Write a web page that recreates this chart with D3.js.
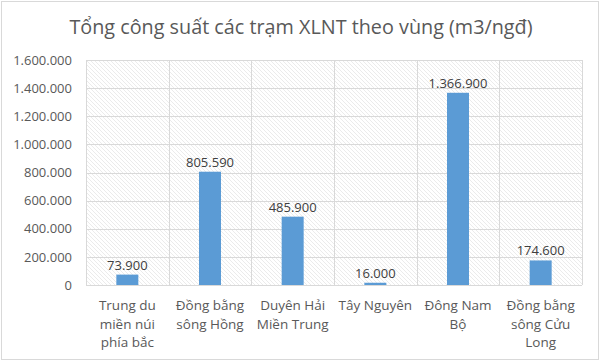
<!DOCTYPE html>
<html>
<head>
<meta charset="utf-8">
<script src="https://cdn.jsdelivr.net/npm/d3@7"></script>
<style>
  body { margin: 0; background: #fff; }
  text { font-family: "Open Sans", "Noto Sans", sans-serif; fill: #595959; }
</style>
</head>
<body>
<div id="chart"></div>
<script>
// data
const regions = [
  ['Trung du', 'miền núi', 'phía bắc'],
  ['Đồng bằng', 'sông Hồng'],
  ['Duyên Hải', 'Miền Trung'],
  ['Tây Nguyên'],
  ['Đông Nam', 'Bộ'],
  ['Đồng bằng', 'sông Cửu', 'Long']
];
const capacity = [73900, 805590, 485900, 16000, 1366900, 174600];
const yTicks = [0, 200000, 400000, 600000, 800000, 1000000, 1200000, 1400000, 1600000];
const title = 'Tổng công suất các trạm XLNT theo vùng (m3/ngđ)';

const W = 600, H = 361;
const margin = { top: 60, right: 18, bottom: 76, left: 86 };
const width = W - margin.left - margin.right;
const height = H - margin.top - margin.bottom;

// vi-VN style thousands separator
const fmt = d => d3.format(',')(d).replace(/,/g, '.');

const svg = d3.select('#chart').append('svg')
  .attr('width', W).attr('height', H);

// hatch pattern for plot area
const defs = svg.append('defs');
const pat = defs.append('pattern')
  .attr('id', 'hatch')
  .attr('patternUnits', 'userSpaceOnUse')
  .attr('width', 4).attr('height', 4);
pat.append('path')
  .attr('d', 'M-1,-1 L5,5 M-1,3 L1,5 M3,-1 L5,1')
  .attr('stroke', '#e2e2e2')
  .attr('stroke-width', 0.7);

// outer chart border
svg.append('rect')
  .attr('x', 1.5).attr('y', 1.5)
  .attr('width', W - 3).attr('height', H - 3)
  .attr('fill', 'none').attr('stroke', '#d9d9d9');

// title
svg.append('text')
  .attr('x', W / 2 + 1).attr('y', 34)
  .attr('text-anchor', 'middle')
  .style('font-size', '19.8px')
  .text(title);

const g = svg.append('g')
  .attr('transform', `translate(${margin.left},${margin.top})`);

const x = d3.scaleBand()
  .domain(d3.range(regions.length))
  .range([0, width]);

const y = d3.scaleLinear()
  .domain([0, 1600000])
  .range([height, 0]);

g.append('rect')
  .attr('width', width).attr('height', height)
  .attr('fill', 'url(#hatch)');

// horizontal gridlines
g.append('g')
  .selectAll('line')
  .data(yTicks)
  .enter().append('line')
  .attr('x1', 0).attr('x2', width)
  .attr('y1', d => Math.round(y(d)) + 0.5)
  .attr('y2', d => Math.round(y(d)) + 0.5)
  .attr('stroke', '#d9d9d9');

// vertical gridlines between categories
g.append('g')
  .selectAll('line')
  .data(d3.range(regions.length + 1))
  .enter().append('line')
  .attr('x1', i => Math.round(i * x.step()) + 0.5)
  .attr('x2', i => Math.round(i * x.step()) + 0.5)
  .attr('y1', 0).attr('y2', height)
  .attr('stroke', '#d9d9d9');

// y axis labels
const yAxis = g.append('g')
  .call(d3.axisLeft(y).tickValues(yTicks).tickFormat(fmt).tickSize(0).tickPadding(14));
yAxis.select('.domain').remove();
yAxis.selectAll('text')
  .style('font-size', '13px')
  .attr('fill', '#595959');

// bars
const barW = 22;
g.selectAll('rect.bar')
  .data(capacity)
  .enter().append('rect')
  .attr('class', 'bar')
  .attr('x', (d, i) => x(i) + x.bandwidth() / 2 - barW / 2)
  .attr('y', d => y(d))
  .attr('width', barW)
  .attr('height', d => height - y(d))
  .attr('fill', '#5b9bd5');

// value labels
g.selectAll('text.label')
  .data(capacity)
  .enter().append('text')
  .attr('class', 'label')
  .attr('x', (d, i) => x(i) + x.bandwidth() / 2)
  .attr('y', d => y(d) - 5)
  .attr('text-anchor', 'middle')
  .style('font-size', '13px')
  .style('fill', '#404040')
  .text(fmt);

// category labels
const cat = g.selectAll('text.cat')
  .data(regions)
  .enter().append('text')
  .attr('class', 'cat')
  .attr('text-anchor', 'middle')
  .style('font-size', '13.5px')
  .attr('transform', (d, i) => `translate(${x(i) + x.bandwidth() / 2},${height + 25})`);
cat.selectAll('tspan')
  .data(d => d)
  .enter().append('tspan')
  .attr('x', 0)
  .attr('dy', (d, i) => i === 0 ? 0 : 18.5)
  .text(d => d);
</script>
</body>
</html>
